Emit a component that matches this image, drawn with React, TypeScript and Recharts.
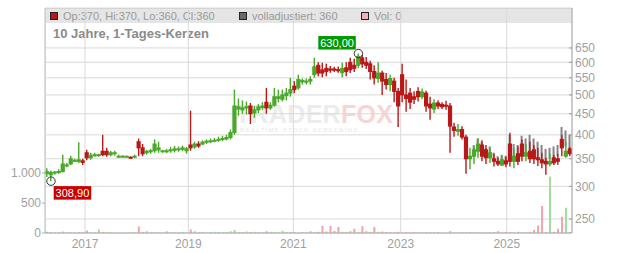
import React from 'react'
import { ComposedChart, Bar, XAxis, YAxis, CartesianGrid, Cell, ReferenceDot } from 'recharts'

// one candle per ~4px slot
const opens = [
  322, 320, 324, 325, 326, 338, 340, 347, 345, 346,
  362, 352, 357, 357, 365, 365, 358, 360, 355, 355,
  354, 353, 353, 385, 372, 362, 364, 366, 368, 365,
  364, 366, 367, 368, 369, 366, 378, 374, 380, 380,
  384, 385, 387, 388, 390, 391, 394, 405, 462, 460,
  465, 470, 452, 460, 466, 480, 465, 472, 490, 488,
  498, 505, 525, 520, 538, 538, 540, 560, 590, 575,
  580, 578, 578, 576, 566, 582, 600, 590, 590, 615,
  600, 595, 570, 548, 565, 545, 530, 540, 510, 560,
  500, 505, 495, 510, 495, 505, 475, 462, 478, 474,
  472, 470, 418, 408, 412, 395, 350, 355, 365, 378,
  368, 352, 350, 345, 338, 346, 380, 345, 360, 380,
  355, 365, 368, 352, 348, 345, 340, 352, 350, 390,
  355, 370,
]
const highs = [
  332, 328, 327, 330, 358, 342, 356, 350, 384, 350,
  368, 362, 362, 360, 400, 372, 366, 366, 358, 357,
  356, 355, 358, 392, 380, 368, 370, 390, 385, 368,
  370, 374, 376, 375, 377, 374, 458, 385, 386, 388,
  390, 392, 393, 396, 398, 400, 412, 515, 490, 485,
  482, 478, 470, 475, 480, 520, 480, 520, 515, 515,
  520, 550, 540, 560, 548, 548, 555, 615, 600, 598,
  595, 588, 585, 586, 598, 600, 615, 612, 630, 625,
  618, 605, 590, 600, 572, 565, 560, 550, 520, 595,
  545, 520, 510, 522, 518, 512, 495, 488, 485, 480,
  484, 478, 428, 425, 420, 400, 372, 375, 392, 388,
  378, 372, 360, 352, 355, 354, 405, 370, 375, 390,
  380, 385, 378, 372, 362, 352, 360, 358, 360, 400,
  385, 374,
]
const lows = [
  316, 308.9, 320, 322, 324, 334, 338, 344, 342, 338,
  347, 348, 354, 354, 355, 354, 355, 356, 352, 353,
  352, 350, 351, 355, 355, 358, 360, 362, 362, 362,
  361, 362, 363, 364, 365, 360, 366, 370, 372, 378,
  380, 382, 384, 385, 386, 388, 390, 400, 445, 450,
  448, 425, 440, 452, 460, 450, 460, 468, 480, 482,
  485, 495, 505, 515, 530, 530, 530, 550, 555, 552,
  555, 566, 568, 566, 552, 555, 565, 568, 580, 582,
  578, 545, 530, 535, 500, 515, 510, 480, 418, 480,
  455, 462, 475, 482, 488, 455, 435, 452, 462, 462,
  460, 362, 396, 398, 390, 322, 330, 340, 352, 345,
  340, 342, 335, 336, 336, 334, 335, 332, 338, 345,
  345, 342, 340, 336, 332, 320, 335, 338, 338, 355,
  352, 355,
]
const closes = [
  326, 324, 325, 326, 340, 338, 350, 347, 348, 343,
  352, 357, 358, 358, 358, 358, 362, 362, 355, 355,
  355, 352, 355, 372, 360, 365, 366, 380, 372, 366,
  366, 368, 370, 370, 372, 370, 372, 380, 376, 384,
  386, 387, 388, 390, 392, 394, 405, 470, 468, 465,
  468, 450, 460, 468, 470, 465, 472, 495, 495, 500,
  505, 515, 515, 545, 542, 540, 545, 585, 565, 565,
  570, 574, 574, 572, 580, 570, 575, 580, 620, 595,
  590, 570, 550, 565, 540, 530, 548, 510, 470, 500,
  490, 480, 488, 495, 508, 470, 465, 478, 470, 468,
  470, 420, 410, 412, 395, 350, 355, 368, 380, 355,
  352, 362, 345, 340, 348, 340, 345, 355, 345, 355,
  362, 350, 350, 348, 342, 340, 345, 342, 345, 372,
  365, 360,
]
const volumes = [
  20, 12, 6, 10, 25, 6, 10, 6, 15, 10,
  40, 6, 10, 60, 15, 6, 10, 4, 6, 6,
  4, 6, 10, 110, 15, 30, 6, 10, 6, 4,
  30, 6, 10, 6, 15, 6, 60, 30, 10, 20,
  6, 15, 20, 15, 6, 15, 30, 50, 20, 15,
  25, 15, 20, 15, 10, 30, 20, 15, 15, 35,
  15, 20, 15, 6, 15, 10, 30, 15, 20, 120,
  25, 120, 35, 100, 20, 15, 30, 70, 15, 115,
  30, 20, 100, 20, 25, 15, 15, 10, 20, 6,
  10, 6, 15, 10, 6, 15, 6, 10, 15, 6,
  4, 30, 6, 4, 10, 6, 15, 6, 10, 6,
  6, 10, 15, 30, 6, 15, 10, 6, 20, 6,
  10, 20, 50, 125, 450, 15, 938, 20, 70, 270,
  420, 15,
]
// "volladjustiert" range, only shows up from 2024 on
const adjStart = 107
const adjLows = [
  360, 370, 360, 352, 355, 345, 342, 345, 342, 350,
  352, 350, 365, 360, 362, 358, 352, 348, 345, 350,
  352, 355, 380, 375, 370,
]
const adjHighs = [
  378, 392, 385, 372, 375, 362, 355, 358, 356, 400,
  380, 378, 398, 392, 400, 392, 385, 378, 370, 372,
  375, 378, 418, 410, 400,
]

const yearTicks = [9.52, 35.4, 61.7, 88.6, 115.16]
const yearLabels = ['2017', '2019', '2021', '2023', '2025']
const priceTicks = [250, 300, 350, 400, 450, 500, 550, 600, 650]
const volumeTicks = [0, 500, 1000]

const highMark = { index: 78, value: 630, label: '630,00' }
const lowMark = { index: 1, value: 308.9, label: '308,90' }

const RED = '#b81818'
const GREEN = '#4aa82a'
const FONT = '"Liberation Sans", Arial, sans-serif'

const data = opens.map((o, i) => ({
  i,
  open: o,
  high: highs[i],
  low: lows[i],
  close: closes[i],
  range: [lows[i], highs[i]],
  volume: volumes[i],
  adj: i >= adjStart ? [adjLows[i - adjStart], adjHighs[i - adjStart]] : null,
}))

const yearLabel = (v: number, index?: number) => {
  const k = yearTicks.findIndex(t => Math.abs(t - v) < 0.05)
  if (k >= 0) return yearLabels[k]
  return index != null ? yearLabels[index] ?? '' : ''
}

const Candle = (props: any) => {
  const { x, y, width, height, payload } = props
  if (!payload) return null
  const { open, close, high, low } = payload
  const color = close >= open ? GREEN : RED
  const top = Math.min(y, y + height)
  const h = Math.abs(height)
  const lh = Math.log(high)
  const ll = Math.log(low)
  const toY = (p: number) => (lh === ll ? top : top + (h * (lh - Math.log(p))) / (lh - ll))
  const b0 = toY(Math.max(open, close))
  const b1 = toY(Math.min(open, close))
  const cx = x + width / 2
  return (
    <g>
      <line x1={cx} x2={cx} y1={top} y2={top + Math.max(h, 1)} stroke={color} strokeWidth={1.4} />
      <rect x={x - 0.3} y={b0 - 0.5} width={width + 0.6} height={Math.max(2, b1 - b0 + 1)} fill={color} />
    </g>
  )
}

const AdjBar = (props: any) => {
  const { x, y, width, height, payload } = props
  if (!payload || !payload.adj) return null
  const top = Math.min(y, y + height)
  return <rect x={x + 0.5} y={top} width={width - 1} height={Math.max(1, Math.abs(height))} fill="#858585" />
}

const PriceTick = (props: any) => {
  const { x, y, payload } = props
  return (
    <g>
      <line x1={x - 3} x2={x} y1={y} y2={y} stroke="#999" />
      <text x={x + 3} y={y} dy="0.36em" fill="#a0a0a0" fontSize={12} fontFamily={FONT}>
        {payload.value}
      </text>
    </g>
  )
}

const YearTick = (props: any) => {
  const { x, y, payload, index } = props
  return (
    <text x={x} y={y} dy="0.71em" textAnchor="middle" fill="#a0a0a0" fontSize={12} fontFamily={FONT}>
      {yearLabel(payload.value, index)}
    </text>
  )
}

const markShape = (label: string, color: string, above: boolean) => (props: any) => {
  const { cx, cy } = props
  const w = 37.5
  const h = 13.5
  const bx = above ? cx - 2.6 - w : cx + 2.7
  const by = above ? cy - 4 - h : cy + 5
  return (
    <g>
      <circle cx={cx} cy={cy} r={4.2} fill="none" stroke="#333" strokeWidth={1} />
      <rect x={bx} y={by} width={w} height={h} fill={color} />
      <text x={bx + w / 2} y={by + h / 2} dy="0.36em" textAnchor="middle" fill="#fff" fontSize={11} fontFamily={FONT}>
        {label}
      </text>
    </g>
  )
}

const volFormat = (v: number) => (v >= 1000 ? `${Math.floor(v / 1000)}.${String(v % 1000).padStart(3, '0')}` : String(v))

const legendItems = [
  { color: '#b81818', text: 'Op:370, Hi:370, Lo:360, Cl:360', left: 50 },
  { color: '#6a6a6a', text: 'volladjustiert: 360', left: 239 },
  { color: '#f0b0b8', text: 'Vol: 0', left: 361 },
]

export default function App() {
  return (
    <div style={{ position: 'absolute', left: 0, top: 0, width: 632, height: 253, background: '#fff', fontFamily: FONT }}>
      {/* legend band + plot frame, behind the svg */}
      <div style={{ position: 'absolute', left: 45, top: 8, width: 527, height: 14.5, background: '#e5e5e5' }} />
      <div style={{ position: 'absolute', left: 45, top: 8, width: 527, height: 225, borderLeft: '1px solid #cfcfcf', borderTop: '1px solid #cfcfcf', boxSizing: 'border-box' }} />
      {legendItems.map(l => (
        <div key={l.text} style={{ position: 'absolute', left: l.left, top: 8, height: 15, display: 'flex', alignItems: 'center', fontSize: 11, color: '#999' }}>
          <span style={{ width: 6, height: 6, background: l.color, border: '1px solid #222', marginRight: 5, display: 'inline-block' }} />
          {l.text}
        </div>
      ))}
      <div style={{ position: 'absolute', left: 53, top: 26, fontSize: 13, fontWeight: 'bold', color: '#8a8a8a' }}>
        10 Jahre, 1-Tages-Kerzen
      </div>
      {/* watermark */}
      <div style={{ position: 'absolute', left: 235, top: 101, fontSize: 25, fontWeight: 'bold', letterSpacing: 0.3, lineHeight: '26px' }}>
        <span style={{ color: '#ececec' }}>TRADER</span>
        <span style={{ color: '#f8d4d4' }}>FOX</span>
      </div>
      <div style={{ position: 'absolute', left: 240, top: 127, fontSize: 6, lineHeight: '7px', letterSpacing: 1.2, color: '#ededed', fontWeight: 'bold' }}>
        REALTIME STOCK SCREENING
      </div>

      <div style={{ position: 'absolute', left: 0, top: 0 }}>
        <ComposedChart width={632} height={253} data={data} margin={{ top: 8, right: 0, bottom: 0, left: 0 }}>
          <CartesianGrid xAxisId="m" yAxisId="p" stroke="#d9d9d9" />
          <XAxis
            xAxisId="m"
            dataKey="i"
            type="number"
            domain={[-0.5, 131.5]}
            ticks={yearTicks}
            interval={0}
            tickLine={false}
            tickSize={4}
            tickMargin={2}
            height={20}
            axisLine={{ stroke: '#aaa' }}
            tick={<YearTick />}
            allowDataOverflow
          />
          <XAxis xAxisId="v" orientation="top" height={0} dataKey="i" type="number" domain={[-0.5, 131.5]} hide allowDataOverflow />
          <XAxis xAxisId="a" orientation="top" height={0} dataKey="i" type="number" domain={[-0.5, 131.5]} hide allowDataOverflow />
          <YAxis
            yAxisId="v"
            orientation="left"
            width={45}
            domain={[0, 3750]}
            ticks={volumeTicks}
            interval={0}
            tickFormatter={volFormat}
            tickSize={3}
            tickMargin={1}
            tickLine={{ stroke: '#aaa' }}
            axisLine={{ stroke: '#cfcfcf' }}
            tick={{ fill: '#a0a0a0', fontSize: 12, fontFamily: FONT }}
            allowDataOverflow
          />
          <YAxis
            yAxisId="p"
            orientation="right"
            width={60}
            scale="log"
            domain={[231.2, 812.5]}
            ticks={priceTicks}
            interval={0}
            tickSize={0}
            tickMargin={0}
            tickLine={false}
            axisLine={{ stroke: '#aaa' }}
            tick={<PriceTick />}
            allowDataOverflow
          />
          <Bar xAxisId="v" yAxisId="v" dataKey="volume" barSize={2} isAnimationActive={false}>
            {data.map(d => (
              <Cell key={d.i} fill={d.close >= d.open ? '#a3dc9c' : '#f2a4ac'} />
            ))}
          </Bar>
          <Bar xAxisId="a" yAxisId="p" dataKey="adj" barSize={3} shape={<AdjBar />} isAnimationActive={false} />
          <Bar xAxisId="m" yAxisId="p" dataKey="range" barSize={4} shape={<Candle />} isAnimationActive={false} />
          <ReferenceDot
            xAxisId="m"
            yAxisId="p"
            x={highMark.index}
            y={highMark.value}
            r={4}
            ifOverflow="visible"
            shape={markShape(highMark.label, '#009a00', true)}
          />
          <ReferenceDot
            xAxisId="m"
            yAxisId="p"
            x={lowMark.index}
            y={lowMark.value}
            r={4}
            ifOverflow="visible"
            shape={markShape(lowMark.label, '#cc0000', false)}
          />
        </ComposedChart>
      </div>
    </div>
  )
}
